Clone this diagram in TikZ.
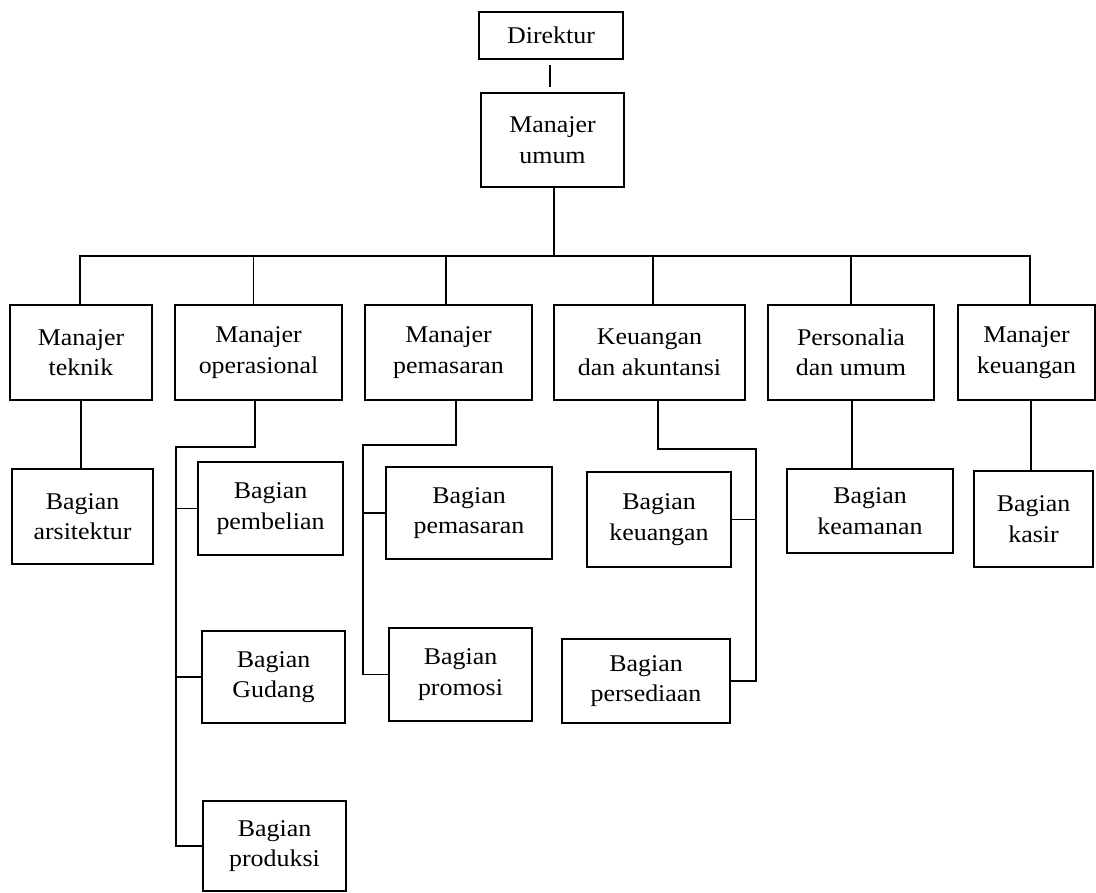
\documentclass[tikz,border=0pt]{standalone}
\usepackage{fontspec}
\setmainfont{Liberation Serif}[FakeStretch=1.08]
\begin{document}
\begin{tikzpicture}[x=1pt,y=-1pt,
  box/.style={draw, line width=2.2pt, align=center, inner sep=0pt,
    font=\fontsize{24}{30.5}\selectfont},
  link/.style={line width=1.7pt}]
\useasboundingbox (0,0) rectangle (1096,893);
% top
\node[box, minimum width=144pt, minimum height=47pt] (dir) at (551,35.5) {Direktur};
\node[box, minimum width=143pt, minimum height=94pt] (mu) at (552.5,140) {Manajer\\umum};
% level 2
\node[box, minimum width=142pt, minimum height=95pt] (mt) at (81,352.5) {Manajer\\teknik};
\node[box, minimum width=167pt, minimum height=95pt] (mo) at (258.5,352.5) {Manajer\\operasional};
\node[box, minimum width=167pt, minimum height=95pt] (mp) at (448.5,352.5) {Manajer\\pemasaran};
\node[box, minimum width=191pt, minimum height=95pt] (ka) at (649.5,352.5) {Keuangan\\dan akuntansi};
\node[box, minimum width=166pt, minimum height=95pt] (pu) at (851,352.5) {Personalia\\dan umum};
\node[box, minimum width=137pt, minimum height=95pt] (mk) at (1026.5,352.5) {Manajer\\keuangan};
% level 3
\node[box, minimum width=141pt, minimum height=95pt] (ars) at (82.5,516.5) {Bagian\\arsitektur};
\node[box, minimum width=145pt, minimum height=93pt] (pem) at (270.5,508.5) {Bagian\\pembelian};
\node[box, minimum width=143pt, minimum height=92pt] (gud) at (273.5,677) {Bagian\\Gudang};
\node[box, minimum width=143pt, minimum height=90pt] (prd) at (274.5,846) {Bagian\\produksi};
\node[box, minimum width=166pt, minimum height=92pt] (bpm) at (469,513) {Bagian\\pemasaran};
\node[box, minimum width=143pt, minimum height=93pt] (prm) at (460.5,674.5) {Bagian\\promosi};
\node[box, minimum width=144pt, minimum height=95pt] (keu) at (659,519.5) {Bagian\\keuangan};
\node[box, minimum width=168pt, minimum height=84pt] (per) at (646,681) {Bagian\\persediaan};
\node[box, minimum width=166pt, minimum height=84pt] (kea) at (870,511) {Bagian\\keamanan};
\node[box, minimum width=119pt, minimum height=96pt] (kas) at (1033.5,519) {Bagian\\kasir};
% connectors top
\draw[link, shorten <=5pt, shorten >=5pt] ([xshift=-1pt]dir.south) -- ([xshift=-2.5pt]mu.north);
\coordinate (bus) at (554,256);
\draw[link] ([xshift=1.5pt]mu.south) -- (bus);
\draw[link] ([xshift=-1pt]mt.north) -- ([xshift=-1pt]mt.north |- bus) -- ([xshift=3.5pt]mk.north |- bus) -- ([xshift=3.5pt]mk.north);
\draw[link] ([xshift=-5pt]mo.north) -- ([xshift=-5pt]mo.north |- bus);
\draw[link] ([xshift=-2.5pt]mp.north) -- ([xshift=-2.5pt]mp.north |- bus);
\draw[link] ([xshift=3.5pt]ka.north) -- ([xshift=3.5pt]ka.north |- bus);
\draw[link] (pu.north) -- (pu.north |- bus);
% teknik
\draw[link] (mt.south) -- (mt.south |- ars.north);
% operasional
\coordinate (moJ) at (176,447);
\draw[link] ([xshift=-3.5pt]mo.south) |- (moJ) -- (moJ |- prd.west) -- (prd.west);
\draw[link] (pem.west) -- (pem.west -| moJ);
\draw[link] (gud.west) -- (gud.west -| moJ);
% pemasaran
\coordinate (mpJ) at (363,445);
\draw[link] ([xshift=7.5pt]mp.south) |- (mpJ) -- (mpJ |- prm.west) -- (prm.west);
\draw[link] (bpm.west) -- (bpm.west -| mpJ);
% keuangan dan akuntansi
\coordinate (kaJ) at (756,449);
\draw[link] ([xshift=8.5pt]ka.south) |- (kaJ) -- (kaJ |- per.east) -- (per.east);
\draw[link] (keu.east) -- (keu.east -| kaJ);
% personalia
\draw[link] ([xshift=1pt]pu.south) -- ([xshift=1pt]pu.south |- kea.north);
% manajer keuangan
\draw[link] ([xshift=4.5pt]mk.south) -- ([xshift=4.5pt]mk.south |- kas.north);
\end{tikzpicture}
\end{document}
